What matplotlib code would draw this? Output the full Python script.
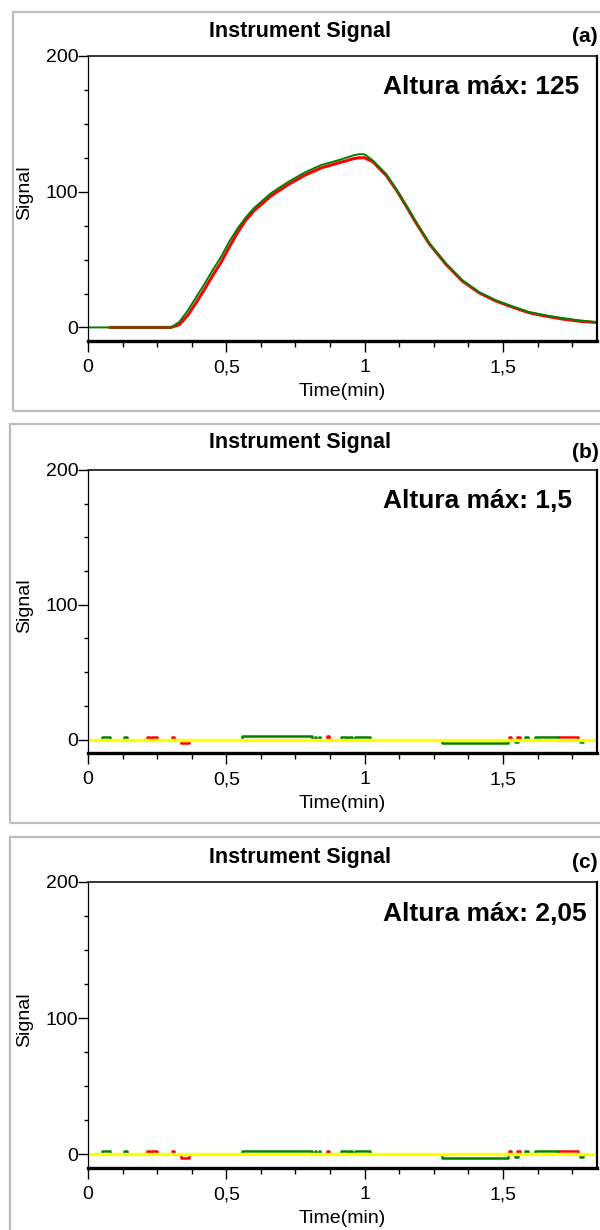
import matplotlib
matplotlib.use('Agg')
from matplotlib import pyplot as plt
from matplotlib.patches import Rectangle
from matplotlib.ticker import MultipleLocator

plt.rcParams['font.family'] = ['Liberation Sans', 'DejaVu Sans']

# panel (a) - green and red traces
green_a_t = [0, 0.30, 0.33, 0.361, 0.39, 0.421, 0.45, 0.481, 0.51, 0.541, 0.57, 0.60, 0.662, 0.722,
             0.782, 0.842, 0.902, 0.963, 0.982, 1.0, 1.03, 1.078, 1.114, 1.150, 1.186, 1.234, 1.294,
             1.354, 1.414, 1.474, 1.534, 1.595, 1.655, 1.715, 1.775, 1.84]
green_a_v = [0, 0, 4, 12.5, 22, 32, 42, 52, 63, 73, 81, 88, 99, 107, 114, 119.6, 123, 127, 127.7,
             127.5, 123, 113, 102, 90, 77.7, 62, 47, 34.7, 26, 20, 15.5, 11.3, 8.9, 6.9, 5.2, 3.8]
red_a_t = [0.08, 0.30, 0.33, 0.361, 0.39, 0.421, 0.45, 0.481, 0.51, 0.541, 0.57, 0.60, 0.662, 0.722,
           0.782, 0.842, 0.902, 0.963, 0.982, 1.0, 1.03, 1.078, 1.114, 1.150, 1.186, 1.234, 1.294,
           1.354, 1.414, 1.474, 1.534, 1.595, 1.655, 1.715, 1.775, 1.84]
red_a_v = [0, 0, 2, 9, 18, 28, 38, 48, 59, 70, 79, 86, 97, 105, 112, 117.5, 121, 124.5, 125, 125,
           122, 112, 101.5, 89.5, 77, 61.5, 46.5, 34, 25.5, 19.5, 15, 10.8, 8.3, 6.2, 4.6, 3.6]

# panels (b) and (c) - small signals around zero (step data)
green_bc_t = [0, 0.05, 0.08, 0.13, 0.14, 0.555, 0.81, 0.82, 0.825, 0.835, 0.84, 0.915, 0.935, 0.945,
              0.955, 0.965, 1.02, 1.28, 1.52, 1.545, 1.555, 1.58, 1.59, 1.615, 1.70, 1.78, 1.79, 1.84]
green_bc_v = [0, 2.2, 0, 2.2, 0, 2.4, 0, 2.2, 0, 2.2, 0, 2.2, 0, 2.2, 0, 2.2, 0, -2.4, 0, -2.2, 0,
              2.2, 0, 2.2, 0, -2.2, 0, 0]
red_bc_t = [0, 0.215, 0.225, 0.23, 0.25, 0.305, 0.312, 0.335, 0.365, 0.865, 0.872, 1.522, 1.53,
            1.552, 1.56, 1.70, 1.77, 1.84]
red_bc_v = [0, 2.2, 0, 2.2, 0, 2.2, 0, -2.4, 0, 2.8, 0, 2.2, 0, 2.2, 0, 2.2, 0, 0]
yellow_t = [0, 1.84]
yellow_v = [0, 0]

panel_tags = ['(a)', '(b)', '(c)']
max_heights = ['Altura máx: 125', 'Altura máx: 1,5', 'Altura máx: 2,05']
x_ticks = [0, 0.5, 1, 1.5]
x_tick_labels = ['0', '0,5', '1', '1,5']
y_ticks = [0, 100, 200]

W, H = 600, 1230
fig = plt.figure(figsize=(6, 12.3), dpi=100)

def fx(px):
    return px / W

def fy(py):
    return 1 - py / H

# gray panel frames (pixel boxes: left, top, right, bottom)
frames = [(13, 12, 606, 411), (10, 424, 606, 823), (10, 837, 606, 1236)]
for l, t, r, b in frames:
    fig.add_artist(Rectangle((fx(l), fy(b)), fx(r - l), (b - t) / H, transform=fig.transFigure,
                             facecolor='none', edgecolor='#bdbdb5', lw=1.6))

# axes boxes: (top px, bottom px), title y, tag y
axes_px = [(56, 341), (470, 753), (882, 1168)]
title_y = [32, 443, 857]
tag_y = [37, 452, 862]

for i in range(3):
    top, bot = axes_px[i]
    h = bot - top
    ax = fig.add_axes([fx(88), fy(bot), fx(597 - 88), h / H])

    if i == 0:
        ax.plot(red_a_t, red_a_v, color='#ff0000', lw=2.2)
        ax.plot(green_a_t, green_a_v, color='#008000', lw=1.4)
    else:
        ax.plot(red_bc_t, red_bc_v, color='#ff0000', lw=1.8, drawstyle='steps-post')
        ax.plot(green_bc_t, green_bc_v, color='#008000', lw=1.8, drawstyle='steps-post')
        ax.plot(yellow_t, yellow_v, color='#ffff00', lw=2.4)

    ax.set_xlim(0, 1.84)
    ax.set_ylim(-10, 200)
    ax.set_xticks(x_ticks)
    ax.set_xticklabels(x_tick_labels)
    ax.set_yticks(y_ticks)
    ax.xaxis.set_minor_locator(MultipleLocator(0.125))
    ax.yaxis.set_minor_locator(MultipleLocator(25))
    ax.tick_params(axis='x', which='major', length=8, width=1, pad=5, labelsize=14)
    ax.tick_params(axis='x', which='minor', length=4.5, width=1)
    ax.tick_params(axis='y', which='major', length=7, width=1, pad=0, labelsize=14)
    ax.tick_params(axis='y', which='minor', length=3, width=1)

    ax.spines['bottom'].set_linewidth(2.4)
    ax.spines['left'].set_linewidth(0.9)
    ax.spines['top'].set_linewidth(1.1)
    ax.spines['right'].set_linewidth(1.6)

    ax.set_xlabel('Time(min)', fontsize=14)
    ax.xaxis.set_label_coords(0.5, -42 / h)
    ax.set_ylabel('Signal', fontsize=14)
    ax.yaxis.set_label_coords((33 - 88) / 509, 0.52)

    ax.text(0.58, 0.865, max_heights[i], transform=ax.transAxes, ha='left', va='baseline',
            fontsize=19, fontweight='bold')

    fig.text(0.5, fy(title_y[i]), 'Instrument Signal', ha='center', va='center',
             fontsize=15.5, fontweight='bold')
    fig.text(fx(585), fy(tag_y[i]), panel_tags[i], ha='center', va='center',
             fontsize=15, fontweight='bold')

fig.savefig('out.png', dpi=100, facecolor='white')
